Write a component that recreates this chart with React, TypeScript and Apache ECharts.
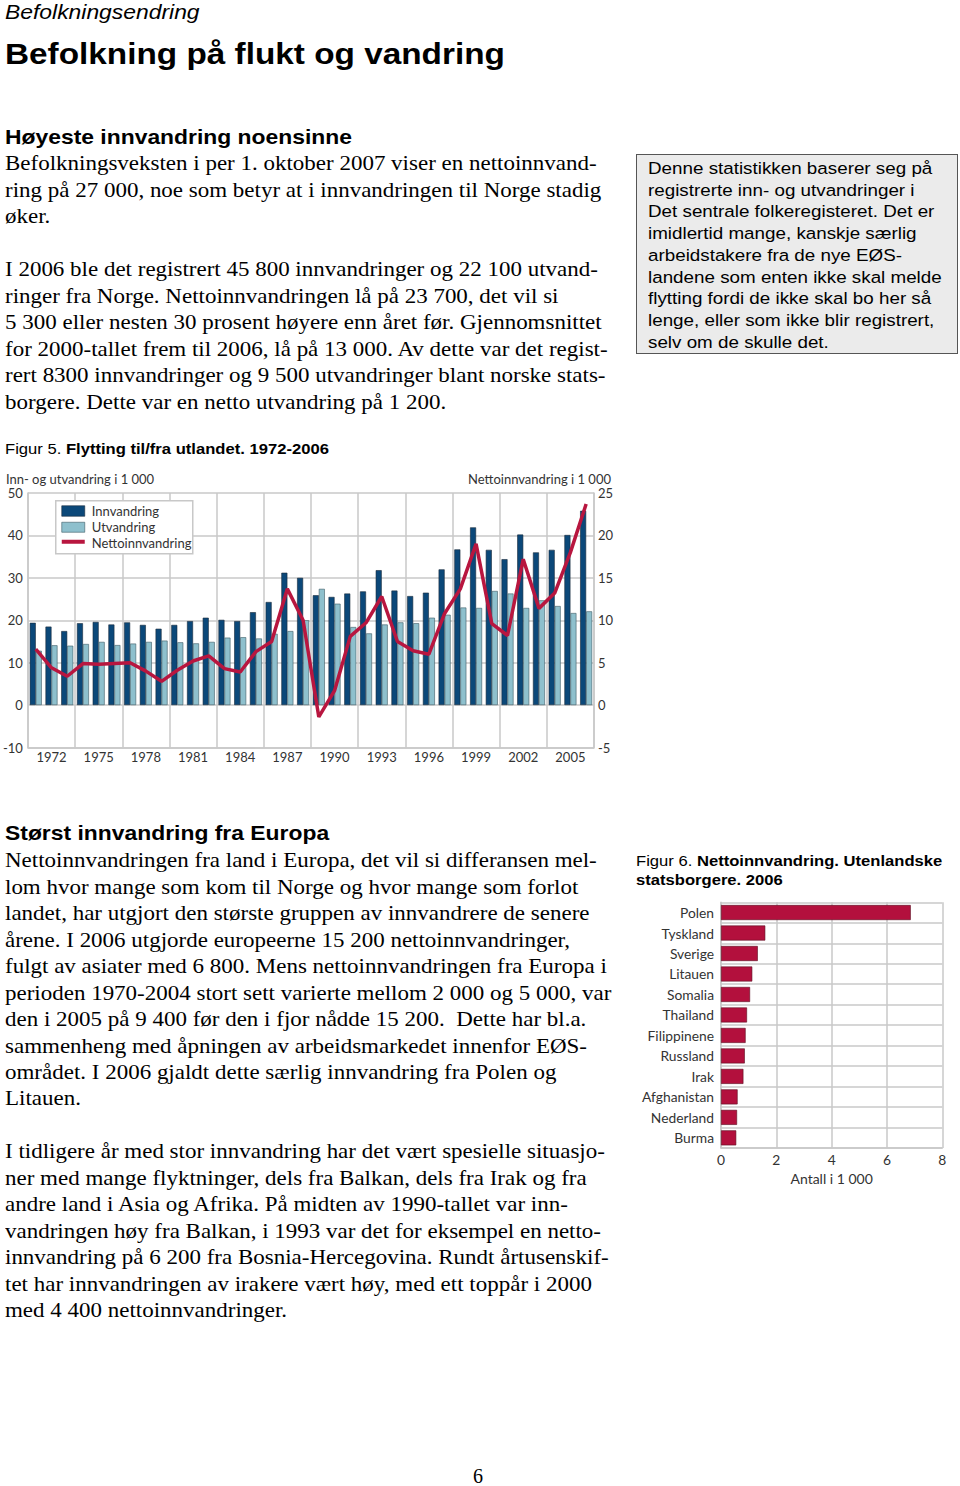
import React, { useEffect, useRef } from "react";
import * as echarts from "echarts";

// ---------- Figure 5 data ----------
const years = [
  "1971", "1972", "1973", "1974", "1975", "1976", "1977", "1978", "1979", "1980",
  "1981", "1982", "1983", "1984", "1985", "1986", "1987", "1988", "1989", "1990",
  "1991", "1992", "1993", "1994", "1995", "1996", "1997", "1998", "1999", "2000",
  "2001", "2002", "2003", "2004", "2005", "2006",
];
const innvandring = [
  19.4, 18.5, 17.45, 19.3, 19.6, 19.0, 19.5, 18.9, 18.0, 18.9,
  19.8, 20.6, 20.1, 19.8, 21.9, 24.3, 31.2, 30.0, 25.9, 25.5,
  26.3, 26.8, 31.8, 27.0, 25.7, 26.5, 32.0, 36.7, 41.9, 36.6,
  34.4, 40.2, 36.0, 36.6, 40.1, 45.8,
];
const utvandring = [
  12.8, 14.1, 14.0, 14.4, 14.9, 14.15, 14.5, 14.9, 15.2, 14.8,
  14.55, 14.9, 15.9, 16.0, 15.7, 16.8, 17.45, 20.0, 27.4, 23.9,
  18.4, 16.9, 19.0, 19.5, 19.3, 20.6, 21.3, 23.0, 22.9, 26.9,
  26.3, 22.9, 24.7, 23.35, 21.7, 22.1,
];
const nettoinnvandring = [
  6.6, 4.4, 3.4, 4.9, 4.8, 4.9, 5.0, 4.0, 2.8, 4.1,
  5.2, 5.8, 4.3, 3.9, 6.3, 7.5, 13.7, 10.0, -1.4, 1.7,
  8.1, 9.7, 12.8, 7.5, 6.4, 6.0, 10.8, 13.7, 19.0, 9.6,
  8.2, 17.2, 11.4, 13.2, 18.0, 23.7,
];
const legendNames = ["Innvandring", "Utvandring", "Nettoinnvandring"];

// ---------- Figure 6 data ----------
const countries = [
  "Polen", "Tyskland", "Sverige", "Litauen", "Somalia", "Thailand",
  "Filippinene", "Russland", "Irak", "Afghanistan", "Nederland", "Burma",
];
const netto2006 = [6.86, 1.6, 1.33, 1.13, 1.05, 0.94, 0.89, 0.86, 0.81, 0.6, 0.58, 0.55];

// ---------- Texts ----------
const para1 = [
  "Befolkningsveksten i per 1. oktober 2007 viser en nettoinnvand-",
  "ring på 27 000, noe som betyr at i innvandringen til Norge stadig",
  "øker.",
  "",
  "I 2006 ble det registrert 45 800 innvandringer og 22 100 utvand-",
  "ringer fra Norge. Nettoinnvandringen lå på 23 700, det vil si",
  "5 300 eller nesten 30 prosent høyere enn året før. Gjennomsnittet",
  "for 2000-tallet frem til 2006, lå på 13 000. Av dette var det regist-",
  "rert 8300 innvandringer og 9 500 utvandringer blant norske stats-",
  "borgere. Dette var en netto utvandring på 1 200.",
];
const boxLines = [
  "Denne statistikken baserer seg på",
  "registrerte inn- og utvandringer i",
  "Det sentrale folkeregisteret. Det er",
  "imidlertid mange, kanskje særlig",
  "arbeidstakere fra de nye EØS-",
  "landene som enten ikke skal melde",
  "flytting fordi de ikke skal bo her så",
  "lenge, eller som ikke blir registrert,",
  "selv om de skulle det.",
];
const para2 = [
  "Nettoinnvandringen fra land i Europa, det vil si differansen mel-",
  "lom hvor mange som kom til Norge og hvor mange som forlot",
  "landet, har utgjort den største gruppen av innvandrere de senere",
  "årene. I 2006 utgjorde europeerne 15 200 nettoinnvandringer,",
  "fulgt av asiater med 6 800. Mens nettoinnvandringen fra Europa i",
  "perioden 1970-2004 stort sett varierte mellom 2 000 og 5 000, var",
  "den i 2005 på 9 400 før den i fjor nådde 15 200.  Dette har bl.a.",
  "sammenheng med åpningen av arbeidsmarkedet innenfor EØS-",
  "området. I 2006 gjaldt dette særlig innvandring fra Polen og",
  "Litauen.",
  "",
  "I tidligere år med stor innvandring har det vært spesielle situasjo-",
  "ner med mange flyktninger, dels fra Balkan, dels fra Irak og fra",
  "andre land i Asia og Afrika. På midten av 1990-tallet var inn-",
  "vandringen høy fra Balkan, i 1993 var det for eksempel en netto-",
  "innvandring på 6 200 fra Bosnia-Hercegovina. Rundt årtusenskif-",
  "tet har innvandringen av irakere vært høy, med ett toppår i 2000",
  "med 4 400 nettoinnvandringer.",
];

const SANS = "'Liberation Sans', Arial, sans-serif";
const SERIF = "'Liberation Serif', 'Times New Roman', serif";
const CHART_FONT = "Lato, 'Open Sans', sans-serif";
const GRID = "#c8c8c8";
const TXT = "#333";
const C_INN = "#0b4879";
const C_UT = "#8ec0cd";
const C_NET = "#b8163f";

type TProps = {
  left: number; top: number; size: number; lh: number; family: string;
  weight?: number | string; italic?: boolean; children: React.ReactNode; sx?: number;
};
const T = ({ left, top, size, lh, family, weight, italic, children, sx = 1.1 }: TProps) => (
  <div
    style={{
      position: "absolute", left, top, fontFamily: family, fontSize: size,
      lineHeight: lh + "px", fontWeight: weight ?? "normal",
      fontStyle: italic ? "italic" : "normal", whiteSpace: "pre", color: "#000",
      transform: `scaleX(${sx})`, transformOrigin: "0 0", margin: 0,
    }}
  >
    {children}
  </div>
);

export default function App() {
  const c1 = useRef<HTMLDivElement>(null);
  const c2 = useRef<HTMLDivElement>(null);

  useEffect(() => {
    const axisText = { fontFamily: CHART_FONT, fontSize: 13, color: TXT };
    const legText = { fontFamily: CHART_FONT, fontSize: 13, fill: TXT, verticalAlign: "middle" };
    const ch1 = echarts.init(c1.current!, undefined, { renderer: "svg" });
    ch1.setOption({
      animation: false,
      grid: { left: 27.5, top: 28, width: 566.5, height: 254.5, containLabel: false },
      graphic: [
        {
          type: "group", left: 55, top: 35, z: 100,
          children: [
            { type: "rect", z: 100, shape: { x: 0, y: 0, width: 137, height: 53 }, style: { fill: "#fff", stroke: GRID, lineWidth: 1.5 } },
            { type: "rect", z: 101, shape: { x: 6, y: 5, width: 23, height: 10.5 }, style: { fill: C_INN, stroke: "#1a2a3a", lineWidth: 0.6 } },
            { type: "text", z: 101, x: 36, y: 10.5, style: { text: legendNames[0], ...legText } },
            { type: "rect", z: 101, shape: { x: 6, y: 21.5, width: 23, height: 10 }, style: { fill: C_UT, stroke: "#3e5a64", lineWidth: 0.6 } },
            { type: "text", z: 101, x: 36, y: 26.5, style: { text: legendNames[1], ...legText } },
            { type: "line", z: 101, shape: { x1: 6, y1: 41, x2: 29, y2: 41 }, style: { stroke: C_NET, lineWidth: 4 } },
            { type: "text", z: 101, x: 36, y: 42, style: { text: legendNames[2], ...legText } },
          ],
        },
      ],
      xAxis: {
        type: "category", data: years, boundaryGap: true,
        axisLine: { show: true, onZero: false, lineStyle: { color: GRID, width: 1.5 } },
        axisTick: { show: false },
        axisLabel: { interval: (i: number) => i % 3 === 1, margin: 3, ...axisText },
        splitLine: { show: true, interval: (i: number) => i % 3 === 0, lineStyle: { color: GRID, width: 1.5 } },
      },
      yAxis: [
        {
          type: "value", min: -10, max: 50, interval: 10, position: "left",
          name: "Inn- og utvandring i 1 000", nameLocation: "end", nameGap: 8,
          nameTextStyle: { ...axisText, align: "left", padding: [0, 0, 0, -22] },
          axisLine: { show: true, lineStyle: { color: GRID, width: 1.5 } },
          axisTick: { show: false },
          axisLabel: { margin: 5, ...axisText },
          splitLine: { show: true, lineStyle: { color: GRID, width: 1.5 } },
        },
        {
          type: "value", min: -5, max: 25, interval: 5, position: "right",
          name: "Nettoinnvandring i 1 000", nameLocation: "end", nameGap: 8,
          nameTextStyle: { ...axisText, align: "right", padding: [0, -17, 0, 0] },
          axisLine: { show: true, lineStyle: { color: GRID, width: 1.5 } },
          axisTick: { show: false },
          axisLabel: { margin: 4, ...axisText },
          splitLine: { show: false },
        },
      ],
      series: [
        {
          name: legendNames[0], type: "bar", data: innvandring, barWidth: 6, barGap: "0%",
          itemStyle: { color: C_INN, borderColor: "#1a2a3a", borderWidth: 0.6 },
        },
        {
          name: legendNames[1], type: "bar", data: utvandring, barWidth: 6, barGap: "0%",
          itemStyle: { color: C_UT, borderColor: "#3e5a64", borderWidth: 0.6 },
        },
        {
          name: legendNames[2], type: "line", yAxisIndex: 1, data: nettoinnvandring,
          symbol: "none", z: 5,
          lineStyle: { color: C_NET, width: 3.5 }, itemStyle: { color: C_NET },
        },
      ],
    });

    const ch2 = echarts.init(c2.current!, undefined, { renderer: "svg" });
    const t2 = { fontFamily: CHART_FONT, fontSize: 13.8, color: TXT };
    ch2.setOption({
      animation: false,
      grid: { left: 91, top: 7.3, width: 221.3, height: 249.4, containLabel: false },
      xAxis: {
        type: "value", min: 0, max: 8, interval: 2,
        axisLine: { show: true, lineStyle: { color: GRID, width: 1.5 } },
        axisTick: { show: false },
        axisLabel: { margin: 4, ...t2 },
        splitLine: { show: true, lineStyle: { color: GRID, width: 1.5 } },
        name: "Antall i 1 000", nameLocation: "middle", nameGap: 20,
        nameTextStyle: { ...t2, fontSize: 14 },
      },
      yAxis: {
        type: "category", inverse: true, data: countries,
        axisLine: { show: true, lineStyle: { color: GRID, width: 1.5 } },
        axisTick: { show: false },
        axisLabel: { margin: 7, ...t2 },
        splitLine: { show: true, interval: 0, lineStyle: { color: GRID, width: 1.5 } },
      },
      series: [
        {
          type: "bar", data: netto2006, barWidth: 15,
          itemStyle: { color: "#b3103d", borderColor: "#5a0d20", borderWidth: 0.6 },
        },
      ],
    });

    return () => {
      ch1.dispose();
      ch2.dispose();
    };
  }, []);

  return (
    <div style={{ position: "absolute", left: 0, top: 0, width: 960, height: 1486, background: "#fff", overflow: "hidden" }}>
      <T left={5} top={-0.5} size={20.8} lh={24.4} family={SANS} italic>Befolkningsendring</T>
      <T left={5} top={36.3} size={30.3} lh={36.4} family={SANS} weight="bold">Befolkning på flukt og vandring</T>
      <T left={5} top={124.3} size={20.8} lh={25} family={SANS} weight="bold">Høyeste innvandring noensinne</T>
      <T left={5} top={150.4} size={20.9} lh={26.5} family={SERIF}>{para1.join("\n")}</T>

      <div style={{ position: "absolute", left: 636, top: 154, width: 322, height: 200, boxSizing: "border-box", background: "#ebebeb", border: "1.5px solid #555" }} />
      <T left={648} top={158} size={17.1} lh={21.7} family={SANS}>{boxLines.join("\n")}</T>

      <T left={5} top={440.3} size={15.1} lh={18} family={SANS}>
        {"Figur 5. "}<span style={{ fontWeight: "bold" }}>Flytting til/fra utlandet. 1972-2006</span>
      </T>
      <div ref={c1} style={{ position: "absolute", left: 0, top: 465, width: 620, height: 305 }} />

      <T left={5} top={820} size={20.8} lh={25} family={SANS} weight="bold">Størst innvandring fra Europa</T>
      <T left={5} top={847.4} size={20.9} lh={26.45} family={SERIF}>{para2.join("\n")}</T>

      <T left={636} top={850.7} size={15.1} lh={19} family={SANS}>
        {"Figur 6. "}<span style={{ fontWeight: "bold" }}>Nettoinnvandring. Utenlandske</span>
      </T>
      <T left={636} top={869.7} size={15.1} lh={19} family={SANS} weight="bold">statsborgere. 2006</T>
      <div ref={c2} style={{ position: "absolute", left: 630, top: 895, width: 330, height: 295 }} />

      <T left={473} top={1468} size={20} lh={16} family={SERIF} sx={1}>6</T>
    </div>
  );
}
